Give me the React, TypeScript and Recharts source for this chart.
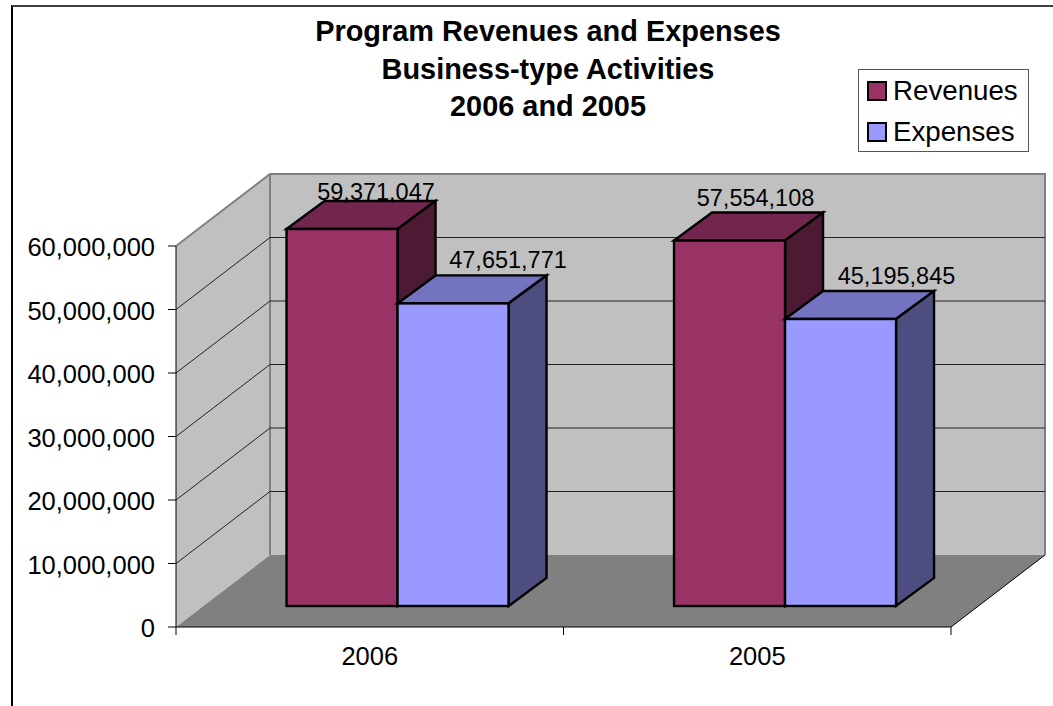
import React from "react";
import { ComposedChart, Bar, XAxis, YAxis, CartesianGrid, Legend, LabelList, usePlotArea } from "recharts";

const categories = ["2006", "2005"];
const revenues = [59371047, 57554108];
const expenses = [47651771, 45195845];
const yTicks = [0, 10000000, 20000000, 30000000, 40000000, 50000000, 60000000];
const titleLines = ["Program Revenues and Expenses", "Business-type Activities", "2006 and 2005"];
const chartData = categories.map((c, i) => ({ category: c, Revenues: revenues[i], Expenses: expenses[i] }));

const W = 1053, H = 706;
const PLOT = { left: 176, right: 951, top: 246, bottom: 627 };
const WALL_DX = 94, WALL_DY = 72;
const BAR_DX = 28, BAR_DY = 21;
const FACE_DX = 38, FACE_DY = 28;
const FONT = "'Liberation Sans', Arial, sans-serif";
const LABEL_SIZE = 23.5;
const AXIS_SIZE = 25.5;

const revColors = { front: "#993366", top: "#73264d", side: "#4d1a33" };
const expColors = { front: "#9999ff", top: "#7373bf", side: "#4d4d80" };

// label anchor nudges (from the bar front's centre / top)
const revLabelNudge = [{ dx: 34, dy: -29 }, { dx: 26, dy: -35 }];
const expLabelNudge = [{ dx: 55, dy: -35 }, { dx: 56, dy: -35 }];

const fmt = (v: number) => v.toLocaleString("en-US");

function Walls() {
  const p = usePlotArea();
  if (!p) return null;
  const l = p.x, r = p.x + p.width, t = p.y, b = p.y + p.height;
  const dx = WALL_DX, dy = WALL_DY;
  return (
    <g>
      <polygon points={`${l},${t} ${l + dx},${t - dy} ${l + dx},${b - dy} ${l},${b}`} fill="#c0c0c0" />
      <rect x={l + dx} y={t - dy} width={r - l} height={b - t} fill="#c0c0c0" />
      <polygon points={`${l},${b} ${l + dx},${b - dy} ${r + dx},${b - dy} ${r},${b}`} fill="#808080" />
      <polyline points={`${l},${t} ${l + dx},${t - dy} ${r + dx},${t - dy} ${r + dx},${b - dy}`} fill="none" stroke="#808080" strokeWidth={2} />
      <line x1={l + dx} y1={t - dy} x2={l + dx} y2={b - dy} stroke="#808080" strokeWidth={2} />
      <line x1={r} y1={b} x2={r + dx} y2={b - dy} stroke="#000" strokeWidth={1} />
    </g>
  );
}

function WallLine(props: any) {
  return props.y1 <= PLOT.top + 1 ? <Walls key={props.key} /> : <g key={props.key} />;
}

function GridLine(props: any) {
  const { x1, x2, y1 } = props;
  if (y1 <= PLOT.top + 1 || y1 >= PLOT.bottom - 1) return <g key={props.key} />;
  return (
    <g key={props.key}>
      <line x1={x1} y1={y1} x2={x1 + WALL_DX} y2={y1 - WALL_DY} stroke="#222" strokeWidth={1} />
      <line x1={x1 + WALL_DX} y1={y1 - WALL_DY} x2={x2 + WALL_DX} y2={y1 - WALL_DY} stroke="#222" strokeWidth={1} />
    </g>
  );
}

function makeShape(colors: typeof revColors) {
  return function BarBox(props: any) {
    const { x, y, width, height } = props;
    const fx = x + BAR_DX, fy = y - BAR_DY;
    const rx = fx + width, by = fy + height;
    return (
      <g stroke="#000" strokeWidth={2.4} strokeLinejoin="miter">
        <polygon points={`${fx},${fy} ${fx + FACE_DX},${fy - FACE_DY} ${rx + FACE_DX},${fy - FACE_DY} ${rx},${fy}`} fill={colors.top} />
        <polygon points={`${rx},${fy} ${rx + FACE_DX},${fy - FACE_DY} ${rx + FACE_DX},${by - FACE_DY} ${rx},${by}`} fill={colors.side} />
        <rect x={fx} y={fy} width={width} height={height} fill={colors.front} />
      </g>
    );
  };
}

function makeLabel(nudges: { dx: number; dy: number }[]) {
  return function BarLabel(props: any) {
    const { x, y, width, value, index } = props;
    const n = nudges[index];
    return (
      <text x={x + BAR_DX + width / 2 + n.dx} y={y - BAR_DY + n.dy} textAnchor="middle" fontFamily={FONT} fontSize={LABEL_SIZE} fill="#000">
        {fmt(value)}
      </text>
    );
  };
}

function Title() {
  return (
    <g>
      {titleLines.map((line, i) => (
        <text key={line} x={548} y={41 + i * 37.5} textAnchor="middle" fontFamily={FONT} fontSize={28.9} fontWeight="bold" fill="#000">
          {line}
        </text>
      ))}
    </g>
  );
}

function XTick(props: any) {
  const { x, y, payload } = props;
  const band = (PLOT.right - PLOT.left) / categories.length;
  return (
    <g>
      <line x1={x - band / 2} y1={y - 8} x2={x - band / 2} y2={y} stroke="#000" />
      <line x1={x + band / 2} y1={y - 8} x2={x + band / 2} y2={y} stroke="#000" />
      <text x={x} y={665} textAnchor="middle" fontFamily={FONT} fontSize={AXIS_SIZE} fill="#000">{payload.value}</text>
    </g>
  );
}

function LegendBox(props: any) {
  const items = props.payload || [];
  return (
    <div style={{ boxSizing: "border-box", width: 171, height: 83, border: "1px solid #555", background: "#fff", padding: "0 0 0 8px", fontFamily: FONT, fontSize: 27.7, color: "#000" }}>
      {items.map((it: any) => (
        <div key={it.value} style={{ display: "flex", alignItems: "center", height: 41, marginTop: 0 }}>
          <span style={{ boxSizing: "border-box", display: "inline-block", width: 20, height: 20, background: it.color, border: "2px solid #000", marginRight: 6 }} />
          <span>{it.value}</span>
        </div>
      ))}
    </div>
  );
}

export default function App() {
  return (
    <div style={{ position: "absolute", left: 0, top: 0, width: W, height: H, background: "#fff", overflow: "hidden" }}>
      <div style={{ position: "absolute", left: 11, top: 5, width: W, height: H, boxSizing: "border-box", borderTop: "2px solid #404040", borderLeft: "2px solid #000" }} />
      <div style={{ position: "absolute", left: 0, top: 0 }}>
        <ComposedChart
          width={W}
          height={H}
          data={chartData}
          barGap={0}
          barCategoryGap="21.3%"
          margin={{ left: 10, right: W - PLOT.right, top: PLOT.top, bottom: 19 }}
        >
          <CartesianGrid vertical={false} horizontal={WallLine as any} />
          <CartesianGrid vertical={false} horizontal={GridLine as any} />
          <XAxis dataKey="category" height={H - PLOT.bottom - 19} axisLine={{ stroke: "#000" }} tickLine={false} tick={XTick as any} interval={0} />
          <YAxis
            width={166}
            domain={[0, 60000000]}
            ticks={yTicks}
            interval={0}
            tickFormatter={fmt}
            axisLine={{ stroke: "#000" }}
            tickLine={{ stroke: "#000" }}
            tickSize={8}
            tickMargin={13}
            tick={{ fontFamily: FONT, fontSize: AXIS_SIZE, fill: "#000", dy: 1 }}
          />
          <Bar dataKey="Revenues" fill={revColors.front} isAnimationActive={false} shape={makeShape(revColors)}>
            <LabelList dataKey="Revenues" content={makeLabel(revLabelNudge) as any} />
          </Bar>
          <Bar dataKey="Expenses" fill={expColors.front} isAnimationActive={false} shape={makeShape(expColors)}>
            <LabelList dataKey="Expenses" content={makeLabel(expLabelNudge) as any} />
          </Bar>
          <Legend
            layout="horizontal"
            verticalAlign="middle"
            align="center"
            itemSorter={null as any}
            content={LegendBox as any}
            wrapperStyle={{ left: 858, top: 69, width: 171, height: 83, bottom: "auto", right: "auto" }}
          />
          <Title />
        </ComposedChart>
      </div>
    </div>
  );
}
